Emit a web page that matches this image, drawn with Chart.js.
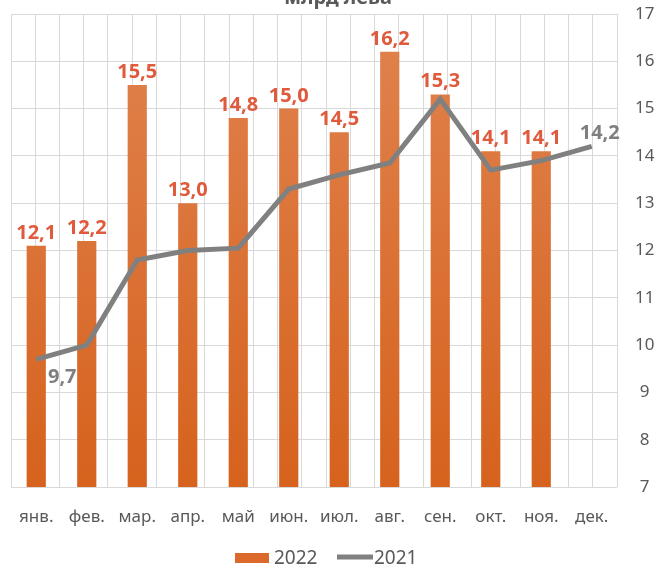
<!DOCTYPE html>
<html>
<head>
<meta charset="utf-8">
<script src="https://cdn.jsdelivr.net/npm/chart.js@4"></script>
<style>
  html, body { margin: 0; padding: 0; background: #fff; }
  #wrap { width: 663px; height: 564px; }
</style>
</head>
<body>
<div id="wrap"><canvas id="salesChart" width="663" height="564"></canvas></div>
<script>
var months = ['янв.', 'фев.', 'мар.', 'апр.', 'май', 'июн.', 'июл.', 'авг.', 'сен.', 'окт.', 'ноя.', 'дек.'];
var values2022 = [12.1, 12.2, 15.5, 13.0, 14.8, 15.0, 14.5, 16.2, 15.3, 14.1, 14.1, null];
var values2021 = [9.7, 10.0, 11.8, 12.0, 12.05, 13.3, 13.6, 13.85, 15.2, 13.7, 13.9, 14.2];
var yTicks = [7, 8, 9, 10, 11, 12, 13, 14, 15, 16, 17];
var lineLabelIdx = [0, 11]; // only these 2021 points carry a label
var titleText = 'млрд лева';

var font = "'Noto Sans', 'Open Sans', sans-serif";
var gridColor = '#D9D9D9';

function fmt(v) {
    return v.toFixed(1).replace('.', ',');
}

function barFill(context) {
    var area = context.chart.chartArea;
    if (!area) return '#DC6A2C';
    var g = context.chart.ctx.createLinearGradient(0, area.top, 0, area.bottom);
    g.addColorStop(0, '#E0834F');
    g.addColorStop(1, '#D6621D');
    return g;
}

// value labels, legend and the clipped title
var extras = {
    id: 'extras',
    afterDatasetsDraw: function (chart) {
        var ctx = chart.ctx;
        ctx.save();
        ctx.font = 'bold 20px ' + font;
        ctx.textAlign = 'center';
        ctx.textBaseline = 'alphabetic';

        ctx.fillStyle = '#E05A3C';
        chart.getDatasetMeta(0).data.forEach(function (bar, i) {
            var v = values2022[i];
            if (v == null) return;
            ctx.fillText(fmt(v), bar.x, bar.y - 7);
        });

        ctx.fillStyle = '#7F7F7F';
        var pts = chart.getDatasetMeta(1).data;
        lineLabelIdx.forEach(function (i) {
            var p = pts[i];
            if (i === 0) ctx.fillText(fmt(values2021[i]), p.x + 26, p.y + 24);
            else ctx.fillText(fmt(values2021[i]), p.x + 8, p.y - 7);
        });
        ctx.restore();
    },
    afterDraw: function (chart) {
        var ctx = chart.ctx;
        ctx.save();
        // title, mostly cut off by the top edge
        ctx.font = 'bold 20px ' + font;
        ctx.fillStyle = '#595959';
        ctx.textAlign = 'center';
        ctx.textBaseline = 'alphabetic';
        ctx.fillText(titleText, 338, 4);

        // legend
        ctx.font = '19px ' + font;
        ctx.textAlign = 'left';
        ctx.fillStyle = '#DC6A2C';
        ctx.fillRect(235, 553, 34, 10);
        ctx.fillStyle = '#595959';
        ctx.fillText(chart.data.datasets[0].label, 274, 564);
        ctx.strokeStyle = '#808080';
        ctx.lineWidth = 5;
        ctx.beginPath();
        ctx.moveTo(337, 557);
        ctx.lineTo(373, 557);
        ctx.stroke();
        ctx.fillText(chart.data.datasets[1].label, 374, 564);
        ctx.restore();
    }
};

var ctx1 = document.getElementById('salesChart').getContext('2d');
var salesChart = new Chart(ctx1, {
    type: 'bar',
    data: {
        labels: months,
        datasets: [{
            label: '2022',
            data: values2022,
            backgroundColor: barFill,
            borderWidth: 0,
            barPercentage: 0.38,
            categoryPercentage: 1,
            yAxisID: 'y',
            order: 2
        }, {
            type: 'line',
            label: '2021',
            data: values2021,
            borderColor: '#808080',
            borderWidth: 5,
            pointRadius: 0,
            tension: 0,
            yAxisID: 'y',
            order: 1
        }]
    },
    options: {
        responsive: false,
        animation: false,
        layout: {
            padding: { top: 14, left: 11, right: 0, bottom: 0 }
        },
        scales: {
            x: {
                grid: { display: false },
                border: { display: false },
                ticks: {
                    color: '#595959',
                    padding: 12,
                    font: { family: font, size: 17 }
                },
                afterFit: function (scale) { scale.height = 77; }
            },
            x2: {
                type: 'linear',
                position: 'bottom',
                min: -0.5,
                max: 11.5,
                ticks: { display: false, stepSize: 0.5 },
                grid: { color: gridColor, drawTicks: false },
                border: { display: false },
                afterFit: function (scale) { scale.height = 0; }
            },
            y: {
                position: 'right',
                min: 7,
                max: 17,
                afterBuildTicks: function (scale) {
                    scale.ticks = yTicks.map(function (v) { return { value: v }; });
                },
                grid: { color: gridColor, drawTicks: false },
                border: { display: false },
                ticks: {
                    color: '#595959',
                    padding: 18,
                    crossAlign: 'center',
                    font: { family: font, size: 17 }
                },
                afterFit: function (scale) {
                    scale.width = 46;
                    // tick padding would otherwise push the plot top down
                    scale.paddingTop = 10;
                    scale.paddingBottom = 10;
                }
            }
        },
        plugins: {
            legend: { display: false },
            tooltip: { enabled: false }
        }
    },
    plugins: [extras]
});
</script>
</body>
</html>
